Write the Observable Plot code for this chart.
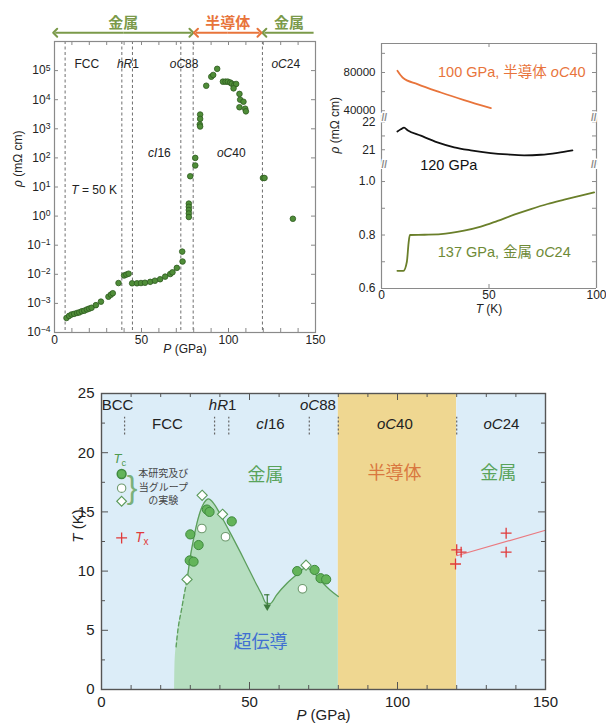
<!DOCTYPE html>
<html><head><meta charset="utf-8">
<script src="https://cdn.jsdelivr.net/npm/d3@7"></script>
<script src="https://cdn.jsdelivr.net/npm/@observablehq/plot@0.6"></script>
<style>
body{margin:0;background:#fff}
#wrap{position:relative;width:606px;height:728px;overflow:hidden;background:#fff}
#wrap svg{position:absolute;overflow:visible}
</style></head><body><div id="wrap"></div>
<script>
// ---------------- Panel A: resistivity vs pressure (T = 50 K)
const rhoP = [6.9, 8.4, 9.8, 11.3, 12.9, 14.2, 15.7, 17.1, 18.6, 19.9, 21.3, 23.8, 26.7, 31.0, 32.4, 33.5, 36.8,
  40.0, 41.3, 42.6, 44.6, 47.4, 49.7, 52.0, 55.0, 57.7, 60.7, 63.6, 66.5, 67.8, 70.3, 73.6, 73.4,
  77.2, 77.2, 77.2, 77.2, 77.2, 78.0, 80.9, 80.9, 83.7, 83.7, 83.5, 83.7,
  87.2, 90.1, 91.2, 93.5, 96.8, 98.3, 99.6, 101.0, 101.9, 103.4, 104.4, 102.9, 106.3, 106.7, 108.6, 106.3, 109.6, 110.0,
  119.8, 120.7, 137.0];
const rhoVal = [3.16e-4, 3.72e-4, 4.17e-4, 4.37e-4, 4.68e-4, 4.9e-4, 5.37e-4, 5.62e-4, 6.17e-4, 6.61e-4, 7.08e-4, 8.71e-4, 1.15e-3, 1.7e-3, 2.0e-3, 2.24e-3, 5.01e-3,
  9.12e-3, 9.77e-3, 1.05e-2, 4.9e-3, 4.9e-3, 5.01e-3, 5.13e-3, 5.5e-3, 6.03e-3, 6.76e-3, 8.32e-3, 1.02e-2, 1.17e-2, 1.66e-2, 2.75e-2, 6.03e-2,
  2.69, 2.09, 1.62, 1.23, 0.93, 23.4, 100, 55, 3090, 2190, 1410, 1200,
  30200, 61700, 70800, 115000, 41700, 41700, 41700, 38900, 35500, 32400, 34700, 24500, 15800, 10000, 8510, 5500, 4900, 3980,
  20.4, 20.4, 0.81];
const phaseBoundsA = [6.1, 38.7, 44.8, 72.6, 79.7, 119.5];
const phaseLabelA = ["FCC", "*hR*1", "*oC*88", "*oC*24", "*cI*16", "*oC*40", "*T* = 50 K"];
const phaseLabelAP = [18.6, 42.2, 74.5, 132.9, 60.3, 101.6, 22.8];
const phaseLabelARho = [1.7e5, 1.7e5, 1.7e5, 1.7e5, 141, 141, 8.1];
const regimeLabel = ["金属", "半導体", "金属"];
const regimeStart = [0.4, 81.3, 120.6];
const regimeEnd = [78.7, 117.8, 148.9];
const regimeKind = ["metal", "semi", "metal"];
const xTicksA = d3.range(0, 151, 10);
const xLabelsA = [0, 50, 100, 150];
const yDecadesA = [1e-4, 1e-3, 1e-2, 1e-1, 1, 10, 100, 1e3, 1e4, 1e5];

// ---------------- Panel B: resistivity vs temperature
const orangeT = [7.4, 9.8, 16.7, 27.6, 38.4, 50.9];
const orangeRho = [81800, 74800, 67900, 59100, 51200, 42800];
const blackT = [7.4, 9.0, 10.5, 12.1, 18.3, 26.0, 33.8, 41.5, 50.8, 58.6, 66.3, 74.1, 81.9, 88.8];
const blackRho = [21.66, 21.74, 21.80, 21.71, 21.51, 21.27, 21.09, 20.98, 20.88, 20.83, 20.80, 20.82, 20.89, 20.98];
const greenT = [7.4, 10.2, 11.8, 12.6, 13.2, 20.0, 27.6, 38.4, 46.2, 54.0, 61.7, 69.5, 77.2, 85.0, 92.7, 98.9];
const greenRho = [0.666, 0.666, 0.70, 0.77, 0.800, 0.801, 0.803, 0.816, 0.831, 0.853, 0.876, 0.897, 0.916, 0.932, 0.947, 0.959];
const seg1Domain = [37180, 110290], seg2Domain = [20.43, 22.24], seg3Domain = [0.6, 1.045];
const seg1Ticks = [40000, 60000, 80000, 100000], seg1Labels = [40000, 80000];
const seg2Ticks = [20.5, 21, 21.5, 22], seg2Labels = [21, 22];
const seg3Ticks = [0.6, 0.7, 0.8, 0.9, 1.0], seg3Labels = [0.6, 0.8, 1.0];
const xTicksB = [0, 50, 100];

// ---------------- Panel C: phase diagram
const regionStart = [0, 80, 120], regionEnd = [80, 120, 150], regionKind = ["metal", "semi", "metal"];
const tcCurveP = [24.7, 24.8, 25.2, 25.8, 27.0, 28.0, 28.9, 30.0, 31.1, 32.5, 33.9, 35.4, 36.2, 37.3, 39.0, 41.2, 44.0, 46.9, 49.7, 52.5, 54.2, 55.6, 57.0, 59.2, 62.6, 66.0, 69.1, 71.6, 74.4, 77.2, 80.0];
const tcCurveT = [0, 1.9, 3.6, 5.0, 6.7, 8.1, 9.2, 11.2, 12.7, 14.3, 15.4, 16.0, 16.1, 15.9, 15.3, 14.3, 13.0, 11.6, 10.2, 8.8, 8.0, 7.3, 7.26, 8.0, 8.95, 9.7, 10.3, 9.9, 9.1, 8.4, 7.85];
const filledP = [30.0, 29.8, 31.1, 32.8, 35.6, 36.5, 44.0, 66.1, 72.0, 74.0, 75.9];
const filledT = [13.1, 10.9, 10.8, 12.2, 15.2, 15.0, 14.2, 10.0, 10.1, 9.4, 9.3];
const openP = [33.9, 41.9, 67.9], openT = [13.6, 12.9, 8.5];
const diamondP = [28.9, 34.0, 40.9, 69.1], diamondT = [9.3, 16.4, 14.8, 10.5];
const upperLimit = [{P: 56.0, hi: 8.0, lo: 7.0}];
const txP = [120.0, 121.5, 119.6, 136.7, 136.7], txT = [11.8, 11.6, 10.6, 13.2, 11.6];
const txFitP = [120, 150], txFitT = [11.3, 13.45];
const phaseBoundsC = [7.8, 38.2, 43.0, 70.2, 80, 120];
const structLabel = ["BCC", "FCC", "*hR*1", "*cI*16", "*oC*88", "*oC*40", "*oC*24"];
const structP = [5.4, 22.3, 40.9, 57.1, 73.1, 99.1, 135.1];
const structT = [24.0, 22.4, 24.0, 22.4, 24.0, 22.4, 22.4];
const stateLabel = ["金属", "半導体", "金属", "超伝導"];
const stateKind = ["metal", "semi", "metal", "sc"];
const stateP = [55.4, 99.0, 134.0, 53.7];
const stateT = [18.1, 18.3, 18.3, 4.0];
const legendText = ["本研究及び", "当グループ", "の実験"];
const legendRowT = [18.2, 17.0, 15.9];

// ---------------- helpers
const FONT = "'Liberation Sans', Arial, 'Noto Sans CJK JP', sans-serif";
const wrap = document.getElementById("wrap");
const baseStyle = {fontFamily: FONT, fontSize: "12px", background: "transparent", overflow: "visible", color: "#222"};
function rich(svg) {
  svg.querySelectorAll("text").forEach(t => {
    if (t.querySelector("tspan")) return;
    const s = t.textContent;
    if (!/[*^_]/.test(s)) return;
    let h = s.replace(/&/g, "&amp;").replace(/</g, "&lt;");
    h = h.replace(/\*([^*]+)\*/g, '<tspan font-style="italic">$1</tspan>')
         .replace(/\^\{([^}]+)\}/g, '<tspan dy="-0.45em" font-size="72%">$1</tspan>')
         .replace(/_\{([^}]+)\}/g, '<tspan dy="0.3em" font-size="72%">$1</tspan>');
    t.innerHTML = h;
  });
}
function place(svg, left, top) {
  svg.style.left = left + "px"; svg.style.top = top + "px";
  rich(svg); wrap.appendChild(svg);
}
function ticksX(vals, len, fh, stroke, sides) {
  const m = [];
  if (sides.includes("bottom")) m.push(Plot.tickX(vals, {x: d => d, insetTop: fh - len, stroke, strokeWidth: 1}));
  if (sides.includes("top")) m.push(Plot.tickX(vals, {x: d => d, insetBottom: fh - len, stroke, strokeWidth: 1}));
  return m;
}
function ticksY(vals, len, fw, stroke, sides) {
  const m = [];
  if (sides.includes("left")) m.push(Plot.tickY(vals, {y: d => d, insetRight: fw - len, stroke, strokeWidth: 1}));
  if (sides.includes("right")) m.push(Plot.tickY(vals, {y: d => d, insetLeft: fw - len, stroke, strokeWidth: 1}));
  return m;
}
const sup = v => { const e = Math.round(Math.log10(v)); return "10^{" + (e < 0 ? "−" + (-e) : e) + "}"; };

const GREEN_A = "#7b9a4a", ORANGE = "#e8743b";

// ================= Panel A
{
  const W = 330, H = 360, mL = 54, mR = 15, mT = 41, mB = 28;
  const fw = W - mL - mR, fh = H - mT - mB;
  const rhoData = rhoP.map((P, i) => ({P, rho: rhoVal[i]}));
  const labels = phaseLabelA.map((label, i) => ({label, P: phaseLabelAP[i], rho: phaseLabelARho[i]}));
  const regimes = regimeLabel.map((label, i) => ({label, a: regimeStart[i], b: regimeEnd[i], kind: regimeKind[i], mid: (regimeStart[i] + regimeEnd[i]) / 2}));
  const segs = [];
  regimes.forEach((r, i) => {
    if (i < 2) { segs.push({from: r.mid, to: r.a, kind: r.kind}); segs.push({from: r.mid, to: r.b, kind: r.kind}); }
    else segs.push({from: r.b, to: r.a, kind: r.kind});
  });
  const ARROW_Y = 2e6;
  const svg = Plot.plot({
    width: W, height: H, marginLeft: mL, marginRight: mR, marginTop: mT, marginBottom: mB,
    style: baseStyle,
    x: {domain: [0, 150]},
    y: {type: "log", domain: [1e-4, 1e6]},
    marks: [
      Plot.ruleX(phaseBoundsA, {stroke: "#6f6f6f", strokeDasharray: "3,2.5", strokeWidth: 1}),
      ticksX(xTicksA, 4, fh, "#888", ["top", "bottom"]),
      ticksY(yDecadesA, 4, fw, "#888", ["left", "right"]),
      Plot.frame({stroke: "#8a8a8a", strokeWidth: 1.2}),
      Plot.axisX({ticks: xLabelsA, tickSize: 0, tickPadding: 3, fontSize: 12, label: null}),
      Plot.axisY({ticks: yDecadesA, tickSize: 0, tickPadding: 4, fontSize: 12, tickFormat: sup, label: null}),
      Plot.text(["*P* (GPa)"], {frameAnchor: "bottom", dy: 20, fontSize: 12}),
      Plot.text(["*ρ* (mΩ cm)"], {frameAnchor: "left", dx: -36, rotate: -90, fontSize: 12}),
      Plot.dot(rhoData, {x: "P", y: "rho", r: 2.8, fill: "#4f8d38", stroke: "#2d5b1f", strokeWidth: 0.8}),
      Plot.text(labels, {x: "P", y: "rho", text: "label", fontSize: 12, fill: "#222"}),
      Plot.link(segs.filter(s => s.kind === "metal"), {x1: "from", x2: "to", y1: ARROW_Y, y2: ARROW_Y, stroke: GREEN_A, strokeWidth: 2, markerEnd: "arrow"}),
      Plot.link(segs.filter(s => s.kind === "semi"), {x1: "from", x2: "to", y1: ARROW_Y, y2: ARROW_Y, stroke: ORANGE, strokeWidth: 2, markerEnd: "arrow"}),
      Plot.text(regimes, {x: "mid", frameAnchor: "top", dy: -24, text: "label", fontSize: 15, fontWeight: "bold", fill: d => d.kind === "semi" ? ORANGE : GREEN_A})
    ]
  });
  place(svg, 0, 0);
}

// ================= Panel B
{
  const W = 276, mL = 51, mR = 10, fw = W - mL - mR;
  const FR = "#8a8a8a";
  const orange = orangeT.map((T, i) => ({T, rho: orangeRho[i]}));
  const black = blackT.map((T, i) => ({T, rho: blackRho[i]}));
  const green = greenT.map((T, i) => ({T, rho: greenRho[i]}));
  const brk = (anchor, dy) => Plot.text(["//"], {frameAnchor: anchor, dy, fontSize: 10, fill: "#888", stroke: "white", strokeWidth: 3, fontWeight: "bold"});
  // segment 1
  {
    const H = 113, mT = 43, fh = H - mT;
    const svg = Plot.plot({
      width: W, height: H, marginLeft: mL, marginRight: mR, marginTop: mT, marginBottom: 0,
      style: baseStyle, x: {domain: [0, 100], axis: null}, y: {domain: seg1Domain, axis: null},
      marks: [
        Plot.ruleX([0, 100], {stroke: FR, strokeWidth: 1.2}),
        Plot.ruleY([seg1Domain[1]], {stroke: FR, strokeWidth: 1.2}),
        ticksY(seg1Ticks, 4, fw, FR, ["left", "right"]),
        ticksX(xTicksB, 4, fh, FR, ["top"]),
        Plot.axisY({ticks: seg1Labels, tickSize: 0, tickPadding: 6, fontSize: 11.5, tickFormat: d3.format("d"), label: null}),
        Plot.line(orange, {x: "T", y: "rho", stroke: ORANGE, strokeWidth: 1.8, curve: "monotone-x"}),
        Plot.text(["100 GPa, 半導体 *oC*40"], {x: 60.6, y: 80000, fontSize: 14.5, fill: ORANGE})
      ]
    });
    place(svg, 330, 0);
  }
  // segment 2
  {
    const H = 50;
    const svg = Plot.plot({
      width: W, height: H, marginLeft: mL, marginRight: mR, marginTop: 0, marginBottom: 0,
      style: baseStyle, x: {domain: [0, 100], axis: null}, y: {domain: seg2Domain, axis: null},
      marks: [
        Plot.ruleX([0, 100], {stroke: FR, strokeWidth: 1.2}),
        ticksY(seg2Ticks, 4, fw, FR, ["left", "right"]),
        Plot.axisY({ticks: seg2Labels, tickSize: 0, tickPadding: 6, fontSize: 12, tickFormat: d3.format("d"), label: null}),
        Plot.line(black, {x: "T", y: "rho", stroke: "#111", strokeWidth: 1.8, curve: "monotone-x"}),
        Plot.text(["120 GPa"], {x: 31.3, y: 20.45, fontSize: 14.5, fill: "#111"}),
        Plot.text(["*ρ* (mΩ cm)"], {frameAnchor: "left", dx: -46, dy: 13, rotate: -90, fontSize: 12}),
        brk("top-left", -1.5), brk("top-right", -1.5), brk("bottom-left", 2), brk("bottom-right", 2)
      ]
    });
    place(svg, 330, 115);
  }
  // segment 3
  {
    const H = 150, mB = 31, fh = H - mB;
    const svg = Plot.plot({
      width: W, height: H, marginLeft: mL, marginRight: mR, marginTop: 0, marginBottom: mB,
      style: baseStyle, x: {domain: [0, 100]}, y: {domain: seg3Domain},
      marks: [
        Plot.ruleX([0, 100], {stroke: FR, strokeWidth: 1.2}),
        Plot.ruleY([seg3Domain[0]], {stroke: FR, strokeWidth: 1.2}),
        ticksY(seg3Ticks, 4, fw, FR, ["left", "right"]),
        ticksX(xTicksB, 4, fh, FR, ["bottom"]),
        Plot.axisY({ticks: seg3Labels, tickSize: 0, tickPadding: 6, fontSize: 12, tickFormat: d3.format(".1f"), label: null}),
        Plot.axisX({ticks: xTicksB, tickSize: 0, tickPadding: 2, fontSize: 12, label: null}),
        Plot.text(["*T* (K)"], {frameAnchor: "bottom", dy: 24, fontSize: 12}),
        Plot.line(green, {x: "T", y: "rho", stroke: "#6a7f2a", strokeWidth: 1.8, curve: "monotone-x"}),
        Plot.text(["137 GPa, 金属 *oC*24"], {x: 57.1, y: 0.735, fontSize: 14.5, fill: "#6e8a36"})
      ]
    });
    place(svg, 330, 169);
  }
}

// ================= Panel C
{
  const W = 606, H = 348, mL = 101, mR = 61, mT = 13, mB = 39;
  const fw = W - mL - mR, fh = H - mT - mB;
  const BLUE = "#dcedf8", TAN = "#efd791", GFILL = "#b6dec0", GLINE = "#5c9e5c";
  const AX = "#555";
  const regions = regionStart.map((s, i) => ({s, e: regionEnd[i], kind: regionKind[i]}));
  const tc = tcCurveP.map((P, i) => ({P, T: tcCurveT[i]}));
  const pts = (Ps, Ts) => Ps.map((P, i) => ({P, T: Ts[i]}));
  const structs = structLabel.map((label, i) => ({label, P: structP[i], T: structT[i]}));
  const stateColor = {metal: "#59a35a", semi: "#d9773f", sc: "#3f6fd2"};
  const states = stateLabel.map((label, i) => ({label, P: stateP[i], T: stateT[i], kind: stateKind[i]}));
  const svg = Plot.plot({
    width: W, height: H, marginLeft: mL, marginRight: mR, marginTop: mT, marginBottom: mB,
    style: {...baseStyle, fontSize: "15px"},
    x: {domain: [0, 150]},
    y: {domain: [0, 25]},
    marks: [
      Plot.rect(regions, {x1: "s", x2: "e", fill: d => d.kind === "semi" ? TAN : BLUE}),
      Plot.areaY(tc, {x: "P", y: "T", fill: GFILL, curve: "monotone-x"}),
      Plot.line(pts(txFitP, txFitT), {x: "P", y: "T", stroke: "#ea7a80", strokeWidth: 1.2}),
      Plot.ruleX(phaseBoundsC, {y1: 21.5, y2: 23.0, stroke: "#666", strokeDasharray: "2,2", strokeWidth: 1.2}),
      Plot.line(tc.slice(2, 7), {x: "P", y: "T", stroke: GLINE, strokeWidth: 1.3, strokeDasharray: "4,3", curve: "monotone-x"}),
      Plot.line(tc.slice(6), {x: "P", y: "T", stroke: GLINE, strokeWidth: 1.3, curve: "monotone-x"}),
      Plot.ruleX(upperLimit, {x: "P", y1: "hi", y2: "lo", stroke: "#3d7a3d", strokeWidth: 1.2}),
      Plot.ruleY(upperLimit, {y: "hi", x1: d => d.P - 0.9, x2: d => d.P + 0.9, stroke: "#3d7a3d", strokeWidth: 1.2}),
      Plot.dot(upperLimit, {x: "P", y: "lo", symbol: "triangle", rotate: 180, r: 2.8, fill: "#3d7a3d"}),
      Plot.dot(pts(diamondP, diamondT), {x: "P", y: "T", symbol: "diamond2", r: 4.6, fill: "white", stroke: "#5a9a5a", strokeWidth: 1.1}),
      Plot.dot(pts(openP, openT), {x: "P", y: "T", r: 4.3, fill: "white", stroke: "#6f9a6f", strokeWidth: 1.1}),
      Plot.dot(pts(filledP, filledT), {x: "P", y: "T", r: 4.6, fill: "#63b45a", stroke: "#3f8a3f", strokeWidth: 1}),
      Plot.dot(pts(txP, txT), {x: "P", y: "T", symbol: "plus", r: 3.6, stroke: "#e03a3a", strokeWidth: 1.3}),
      Plot.text(structs, {x: "P", y: "T", text: "label", fontSize: 15, fill: "#222"}),
      Plot.text(states, {x: "P", y: "T", text: "label", fontSize: 18, fill: d => stateColor[d.kind]}),
      // legend
      Plot.text(["*T*_{c}"], {x: 6.2, y: 19.5, fontSize: 13, fill: "#4f9a4f"}),
      Plot.dot([0], {x: 6.8, y: legendRowT[0], r: 4.4, fill: "#63b45a", stroke: "#3f8a3f"}),
      Plot.dot([0], {x: 6.8, y: legendRowT[1], r: 4.2, fill: "white", stroke: "#6f9a6f", strokeWidth: 1.1}),
      Plot.dot([0], {x: 6.8, y: legendRowT[2], symbol: "diamond2", r: 4.4, fill: "white", stroke: "#5a9a5a", strokeWidth: 1.1}),
      Plot.text(["}"], {x: 10.3, y: 17.05, fontSize: 32, fontWeight: 300, fill: "#7ab07a"}),
      Plot.text(legendText, {x: 20.9, y: (d, i) => legendRowT[i], fontSize: 10, fill: "#444"}),
      Plot.dot([0], {x: 6.8, y: 12.8, symbol: "plus", r: 3.6, stroke: "#e03a3a", strokeWidth: 1.3}),
      Plot.text(["*T*_{x}"], {x: 11.3, y: 12.8, textAnchor: "start", fontSize: 14, fill: "#e03a3a"}),
      // axes and frame
      ticksX(d3.range(0, 151, 10).filter(v => v % 50), 4, fh, AX, ["top", "bottom"]),
      ticksX([0, 50, 100, 150], 7, fh, AX, ["top", "bottom"]),
      ticksY([2.5, 7.5, 12.5, 17.5, 22.5], 4, fw, AX, ["left", "right"]),
      ticksY([0, 5, 10, 15, 20, 25], 7, fw, AX, ["left", "right"]),
      Plot.frame({stroke: AX, strokeWidth: 1.4}),
      Plot.axisX({ticks: [0, 50, 100, 150], tickSize: 0, tickPadding: 7, fontSize: 15, label: null}),
      Plot.axisY({ticks: [0, 5, 10, 15, 20, 25], tickSize: 0, tickPadding: 7, fontSize: 15, label: null}),
      Plot.text(["*P* (GPa)"], {frameAnchor: "bottom", dy: 30, fontSize: 15}),
      Plot.text(["*T* (K)"], {frameAnchor: "left", y: 12.4, dx: -23, rotate: -90, fontSize: 15})
    ]
  });
  place(svg, 0, 380);
}
</script></body></html>
